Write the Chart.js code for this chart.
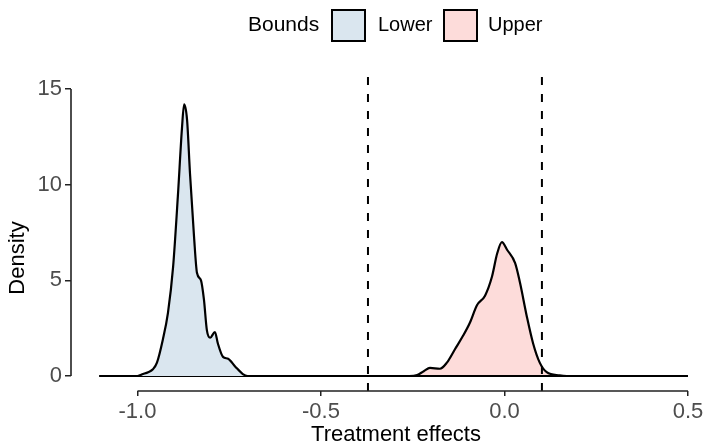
<!DOCTYPE html>
<html>
<head>
<meta charset="utf-8">
<title>Treatment effects density</title>
<script src="https://cdn.jsdelivr.net/npm/chart.js@4.4.1/dist/chart.umd.min.js"></script>
<style>
  html, body { margin: 0; padding: 0; background: #fff; overflow: hidden; }
  .chartBox { position: relative; width: 707px; height: 445px; }
</style>
</head>
<body>
<div class="chartBox"><canvas id="densityChart"></canvas></div>
<script>
// density estimates
var boundNames = ["Lower", "Upper"];
var lowerX = [-1.104, -1.0, -0.985, -0.971, -0.958, -0.947, -0.931, -0.917, -0.903, -0.890, -0.879, -0.873, -0.865, -0.857, -0.846, -0.838, -0.827, -0.819, -0.811, -0.802, -0.789, -0.781, -0.767, -0.753, -0.734, -0.713, -0.70, 0.5];
var lowerY = [0, 0, 0.1, 0.2, 0.35, 0.7, 1.9, 3.3, 5.7, 9.4, 12.9, 14.2, 13.4, 10.6, 7.3, 5.4, 5.0, 4.0, 2.4, 2.0, 2.3, 1.7, 1.0, 0.9, 0.5, 0.1, 0, 0];
var upperX = [-1.104, -0.26, -0.238, -0.22, -0.203, -0.176, -0.157, -0.135, -0.113, -0.094, -0.075, -0.053, -0.034, -0.020, -0.007, 0.007, 0.029, 0.042, 0.061, 0.078, 0.096, 0.115, 0.150, 0.17, 0.5];
var upperY = [0, 0, 0.05, 0.25, 0.42, 0.38, 0.7, 1.4, 2.1, 2.8, 3.7, 4.2, 5.2, 6.4, 7.0, 6.6, 5.9, 4.9, 3.1, 1.7, 0.7, 0.2, 0.03, 0, 0];
var cutoffs = [-0.372, 0.102];
var xTicks = [-1.0, -0.5, 0.0, 0.5];
var yTicks = [0, 5, 10, 15];

var xMin = -1.1812, xMax = 0.5518;
var yMin = -0.784, yMax = 15.89;

var fillColors = ["#dae6ef", "#fddcda"];
var fontFamily = "'Liberation Sans', Arial, Helvetica, sans-serif";

function toPoints(xs, ys){
    var pts = [];
    for(var i = 0; i < xs.length; i++){
        pts.push({x: xs[i], y: ys[i]});
    }
    return pts;
}

var datasets = [];
cutoffs.forEach(function(c){
    datasets.push({
        type: 'line',
        data: [{x: c, y: yMin}, {x: c, y: yMax}],
        borderColor: "#000",
        borderWidth: 2,
        borderDash: [8, 9],
        pointRadius: 0,
        fill: false,
        order: 0
    });
});
datasets.push({
    label: boundNames[0],
    data: toPoints(lowerX, lowerY),
    borderColor: "#000",
    backgroundColor: fillColors[0],
    borderWidth: 2.2,
    pointRadius: 0,
    cubicInterpolationMode: 'monotone',
    fill: 'origin',
    order: 1
});
datasets.push({
    label: boundNames[1],
    data: toPoints(upperX, upperY),
    borderColor: "#000",
    backgroundColor: fillColors[1],
    borderWidth: 2.2,
    pointRadius: 0,
    cubicInterpolationMode: 'monotone',
    fill: 'origin',
    order: 1
});

// ggplot-ish extras: capped axis lines, axis titles, legend on top
var ggExtras = {
    id: 'ggExtras',
    afterDraw: function(chart){
        var ctx = chart.ctx;
        var xs = chart.scales.x, ys = chart.scales.y;
        var area = chart.chartArea;
        ctx.save();
        ctx.strokeStyle = "#222";
        ctx.lineWidth = 1.6;
        ctx.beginPath();
        ctx.moveTo(xs.getPixelForValue(xTicks[0]), area.bottom);
        ctx.lineTo(xs.getPixelForValue(xTicks[xTicks.length - 1]), area.bottom);
        ctx.moveTo(area.left, ys.getPixelForValue(yTicks[0]));
        ctx.lineTo(area.left, ys.getPixelForValue(yTicks[yTicks.length - 1]));
        ctx.stroke();

        ctx.fillStyle = "#000";
        ctx.font = "22px " + fontFamily;
        ctx.textAlign = "center";
        ctx.textBaseline = "alphabetic";
        ctx.fillText("Treatment effects", 396, 441);

        ctx.save();
        ctx.translate(18, 258);
        ctx.rotate(-Math.PI / 2);
        ctx.textBaseline = "middle";
        ctx.fillText("Density", 0, 0);
        ctx.restore();

        // legend
        ctx.textAlign = "left";
        ctx.textBaseline = "middle";
        ctx.font = "21px " + fontFamily;
        ctx.fillText("Bounds", 248, 25);
        ctx.font = "20px " + fontFamily;
        var keyX = [332, 444];
        var labelX = [378, 488];
        for(var i = 0; i < boundNames.length; i++){
            ctx.fillStyle = fillColors[i];
            ctx.fillRect(keyX[i], 10, 33, 31);
            ctx.strokeStyle = "#000";
            ctx.lineWidth = 2;
            ctx.strokeRect(keyX[i], 10, 33, 31);
            ctx.fillStyle = "#000";
            ctx.fillText(boundNames[i], labelX[i], 25);
        }
        ctx.restore();
    }
};

var ctx = document.getElementById("densityChart").getContext('2d');
new Chart(ctx, {
    type: 'line',
    data: { datasets: datasets },
    plugins: [ggExtras],
    options: {
        responsive: true,
        maintainAspectRatio: false,
        animation: false,
        events: [],
        layout: { padding: { top: 72, left: 0, right: 0, bottom: 0 } },
        plugins: {
            legend: { display: false },
            tooltip: { enabled: false }
        },
        scales: {
            x: {
                type: 'linear',
                min: xMin,
                max: xMax,
                afterBuildTicks: function(scale){
                    scale.ticks = xTicks.map(function(v){ return {value: v}; });
                },
                afterFit: function(scale){ scale.height = 54; },
                grid: { drawOnChartArea: false, drawTicks: true, tickLength: 5, color: "#222", lineWidth: 1.5 },
                border: { display: false },
                ticks: {
                    autoSkip: false,
                    maxRotation: 0,
                    padding: 3,
                    color: "#4d4d4d",
                    font: { family: fontFamily, size: 22 },
                    callback: function(v){ return v.toFixed(1); }
                }
            },
            y: {
                type: 'linear',
                min: yMin,
                max: yMax,
                afterBuildTicks: function(scale){
                    scale.ticks = yTicks.map(function(v){ return {value: v}; });
                },
                afterFit: function(scale){ scale.width = 71; },
                grid: { drawOnChartArea: false, drawTicks: true, tickLength: 6, color: "#222", lineWidth: 1.5 },
                border: { display: false },
                ticks: {
                    autoSkip: false,
                    padding: 3,
                    color: "#4d4d4d",
                    font: { family: fontFamily, size: 22 },
                    callback: function(v){ return String(v); }
                }
            }
        }
    }
});
</script>
</body>
</html>
